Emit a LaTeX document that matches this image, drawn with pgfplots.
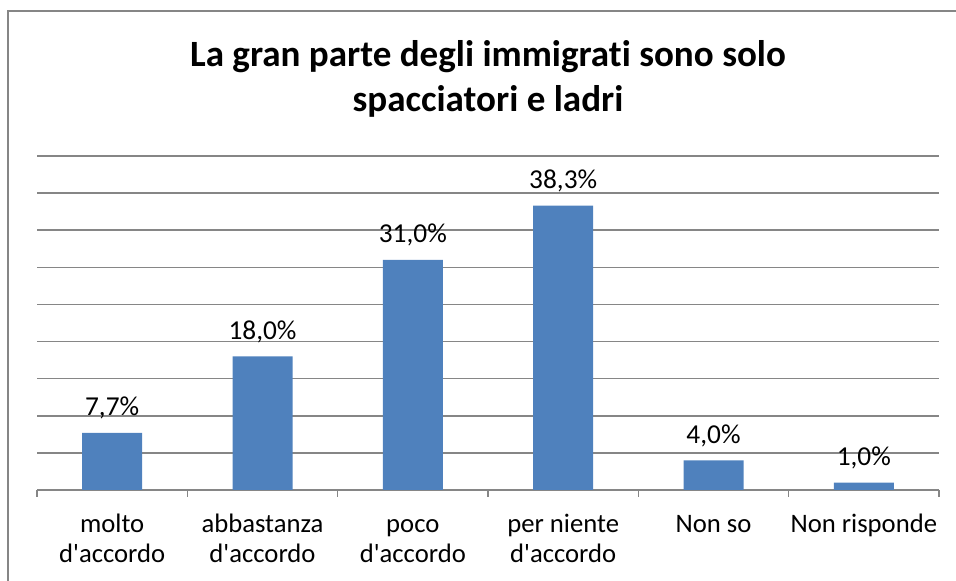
\documentclass[border=0pt]{standalone}
\usepackage{pgfplots}
\pgfplotsset{compat=1.18}
\usepackage{fontspec}
\setmainfont{Carlito}[Ligatures={TeX,NoCommon}]
\definecolor{barblue}{HTML}{4F81BD}
\definecolor{gridgray}{HTML}{868686}
\newcommand{\ap}{\textquotesingle}
\begin{document}
\begin{tikzpicture}[x=0.75pt,y=0.75pt]
\path[use as bounding box] (0,0) rectangle (956,581);
\draw[gridgray,line width=1.5pt] (8,-2) -- (8,570) -- (960,570);
\node[font=\bfseries\fontsize{27.8}{33.75}\selectfont,anchor=base] at (488,514)
  {La gran parte degli immigrati sono solo};
\node[font=\bfseries\fontsize{27.8}{33.75}\selectfont,anchor=base] at (488,469)
  {spacciatori e ladri};
\begin{axis}[
  at={(27.75pt,68.25pt)}, anchor=south west,
  scale only axis, width=676.5pt, height=250.5pt,
  xmin=-0.5, xmax=5.5, ymin=0, ymax=45,
  ytick={0,5,...,45}, yticklabels={},
  ymajorgrids, major grid style={gridgray,line width=1.1pt},
  axis x line*=bottom, axis y line*=left,
  y axis line style={draw=none}, ytick style={draw=none},
  x axis line style={gridgray,line width=1.1pt,-},
  xtick={0,...,5},
  xticklabels={\strut molto\\\strut d\ap accordo, \strut abbastanza\\\strut d\ap accordo, \strut poco\\\strut d\ap accordo, \strut per niente\\\strut d\ap accordo, \strut Non so, \strut Non risponde},
  major x tick style={draw=none},
  minor xtick={-0.5,0.5,...,5.5},
  minor x tick style={gridgray,line width=1.1pt},
  minor tick length=5pt,
  tick align=outside,
  xticklabel style={align=center,font=\fontsize{20}{22.5}\selectfont,yshift=-12pt,anchor=north,inner sep=0pt},
  ybar, bar width=45pt,
  nodes near coords, point meta=explicit symbolic,
  every node near coord/.append style={font=\fontsize{20.5}{22}\selectfont,text=black,inner sep=2pt,yshift=8pt},
  clip=false,
]
\addplot[fill=barblue,draw=none] coordinates {
  (0,7.7) [7,7\%]
  (1,18.0) [18,0\%]
  (2,31.0) [31,0\%]
  (3,38.3) [38,3\%]
  (4,4.0) [4,0\%]
  (5,1.0) [1,0\%]
};
\end{axis}
\end{tikzpicture}
\end{document}
